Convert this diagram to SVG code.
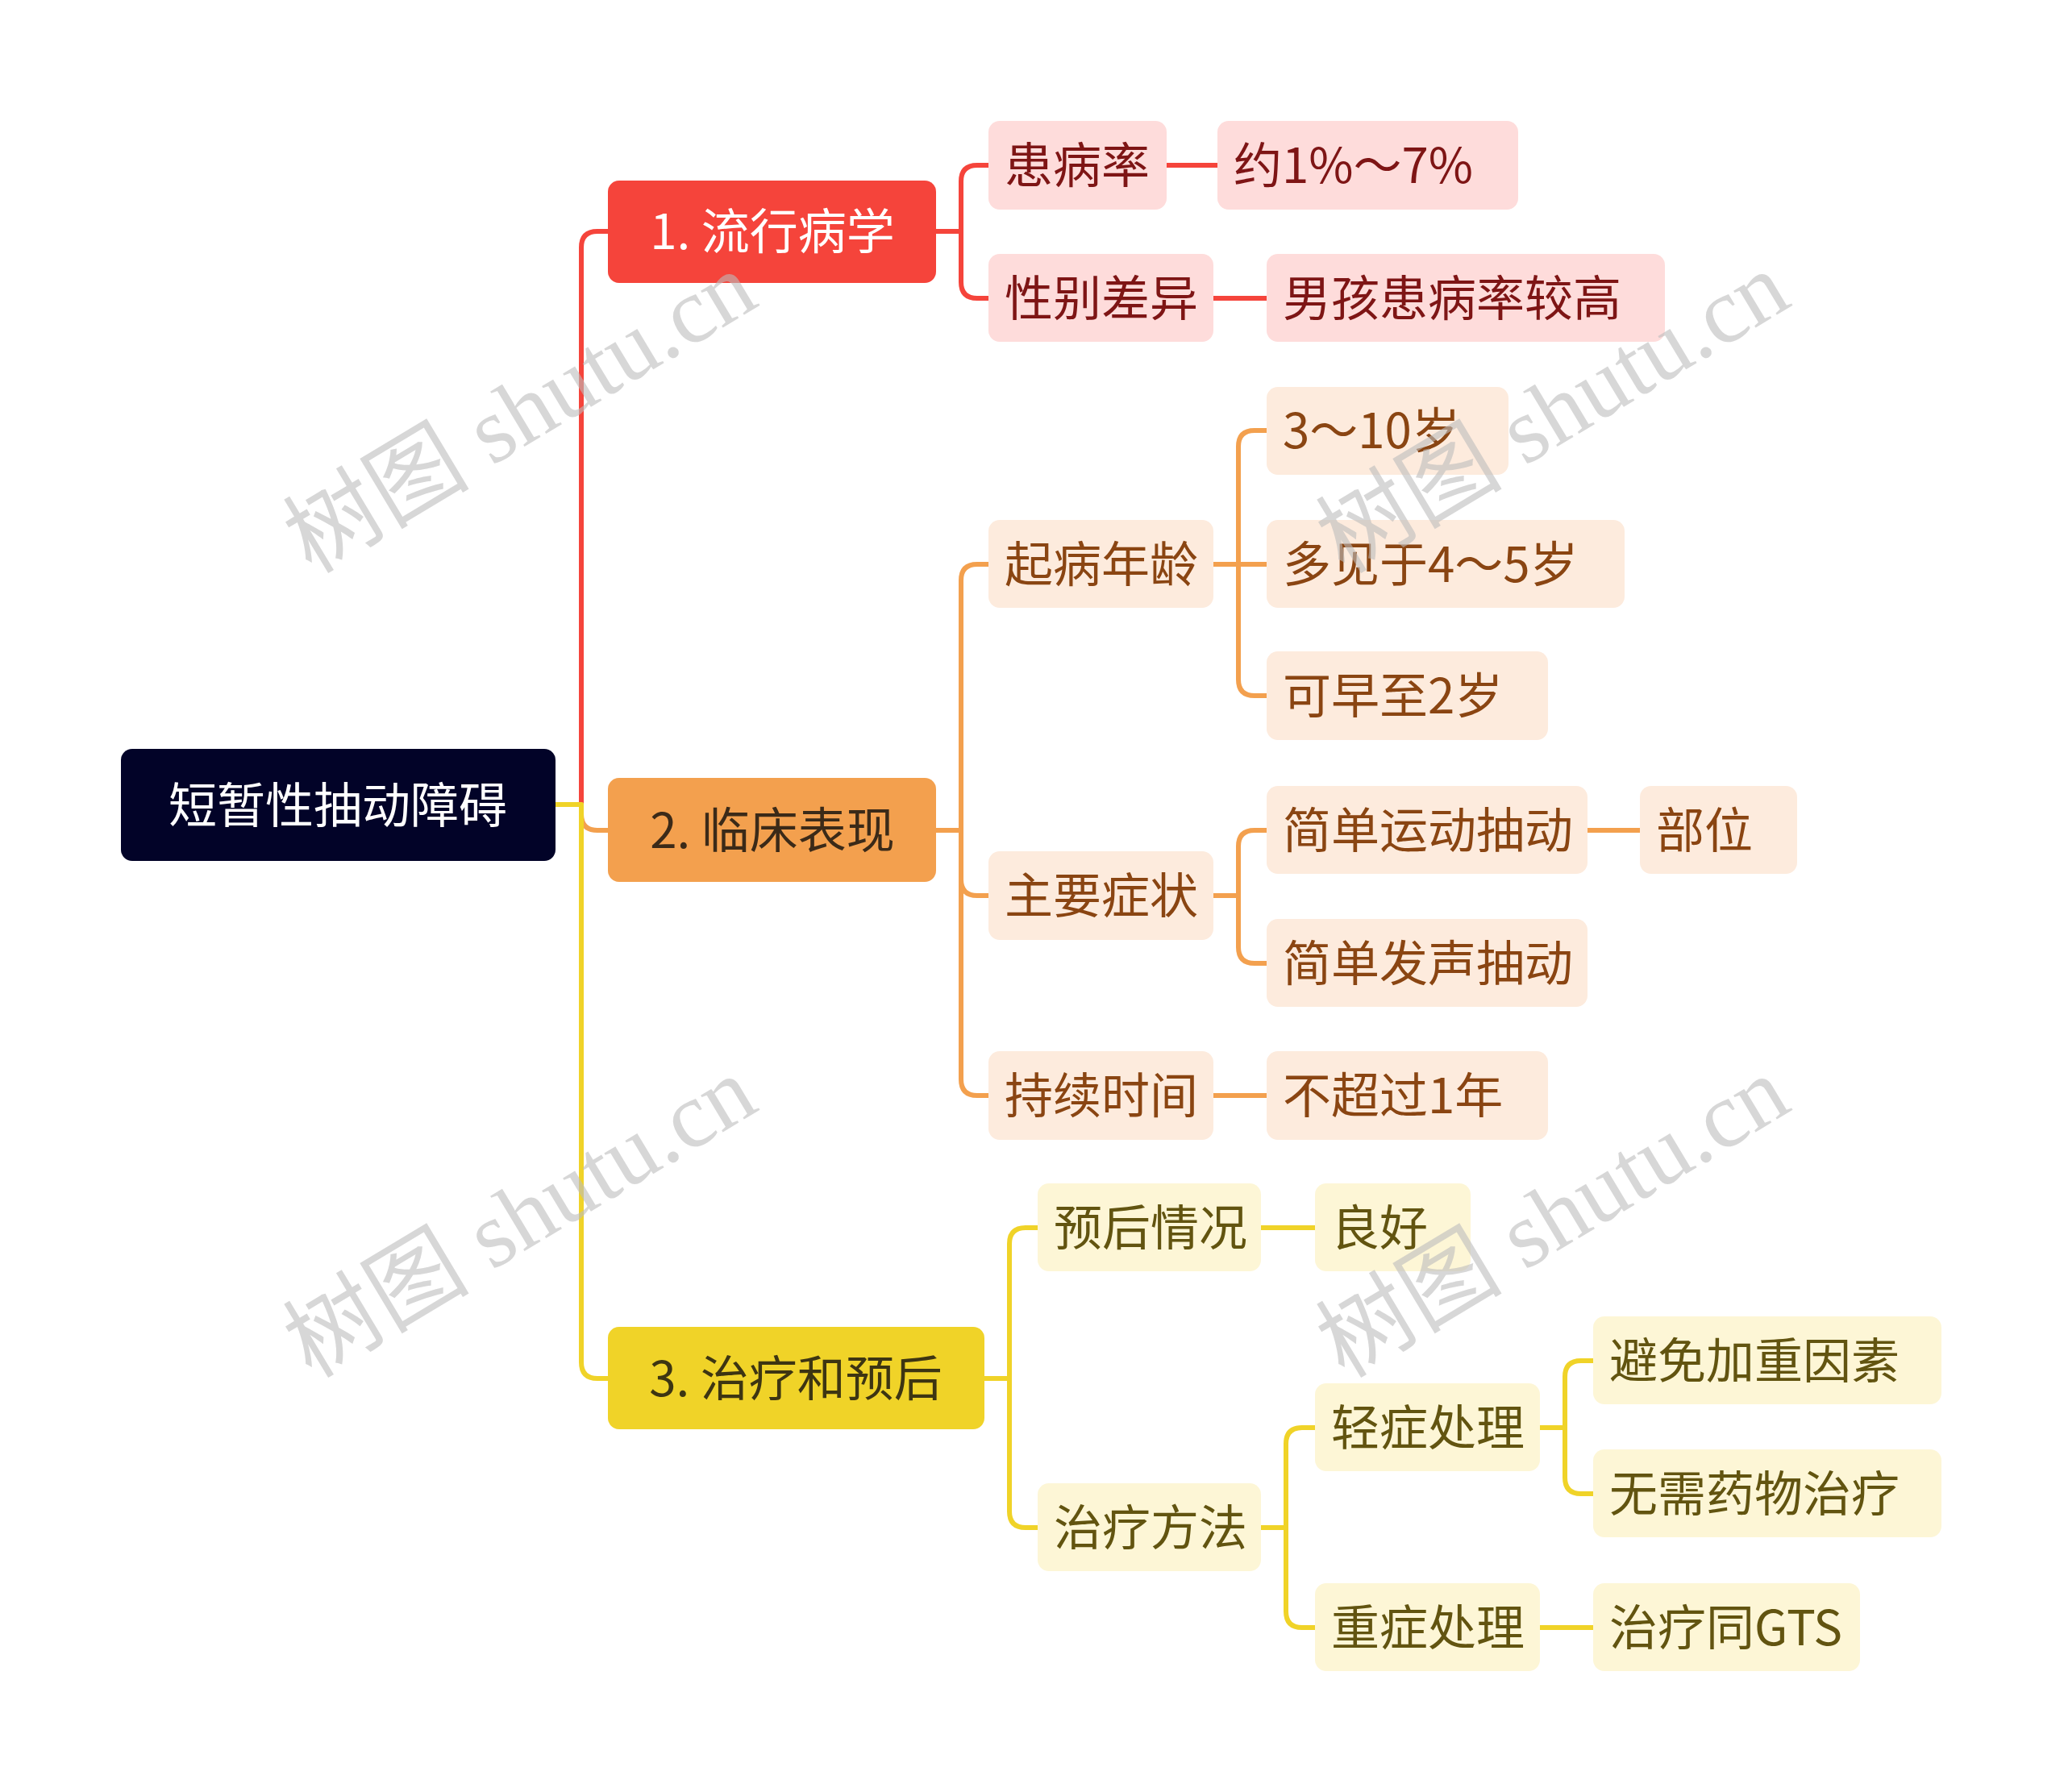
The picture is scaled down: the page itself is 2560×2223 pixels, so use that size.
<svg xmlns="http://www.w3.org/2000/svg" width="2560" height="2223" viewBox="0 0 2560 2223">
<style>
text{font-family:"Noto Sans CJK SC","Noto Sans",sans-serif;font-size:60px;dominant-baseline:central}
.c{fill:none;stroke-width:6;stroke-linecap:butt;stroke-linejoin:round}
.cr{stroke:#F5443B}.co{stroke:#F3A04E}.cy{stroke:#F0D328}
.nr{fill:#FEDCDB}.no{fill:#FDEBDD}.ny{fill:#FDF6D6}
.tr{fill:#7E1515}.to{fill:#8A4512}.ty{fill:#625410}
.l2 text{text-anchor:start}
.wm{font-family:"Liberation Serif","Noto Sans CJK SC",serif;font-size:116px;fill:#BDBDBD;fill-opacity:0.6;text-anchor:middle}
</style>
<rect width="2560" height="2223" fill="#FFFFFF"/>
<g id="connectors">
<path class="c cr" d="M689 998H721V307Q721 287 741 287H756"/>
<path class="c co" d="M689 998H721V1010Q721 1030 741 1030H756"/>
<path class="c cy" d="M689 998H721V1690Q721 1710 741 1710H756"/>
<path class="c cr" d="M1159 287H1192V225Q1192 205 1212 205H1228M1192 287V350Q1192 370 1212 370H1228"/>
<path class="c cr" d="M1445 205H1512M1503 370H1573"/>
<path class="c co" d="M1159 1030H1192V720Q1192 700 1212 700H1228M1192 1030V1091Q1192 1111 1212 1111H1228M1192 1030V1339Q1192 1359 1212 1359H1228"/>
<path class="c co" d="M1503 700H1536V554Q1536 534 1556 534H1573M1503 700H1573M1536 700V843Q1536 863 1556 863H1573"/>
<path class="c co" d="M1503 1111H1536V1050Q1536 1030 1556 1030H1573M1536 1111V1175Q1536 1195 1556 1195H1573"/>
<path class="c co" d="M1967 1030H2036M1503 1359H1573"/>
<path class="c cy" d="M1219 1710H1252V1543Q1252 1523 1272 1523H1289M1252 1710V1875Q1252 1895 1272 1895H1289"/>
<path class="c cy" d="M1562 1523H1633"/>
<path class="c cy" d="M1562 1895H1595V1791Q1595 1771 1615 1771H1633M1595 1895V1999Q1595 2019 1615 2019H1633"/>
<path class="c cy" d="M1908 1771H1941V1708Q1941 1688 1961 1688H1978M1941 1771V1833Q1941 1853 1961 1853H1978"/>
<path class="c cy" d="M1908 2019H1978"/>
</g>
<g id="root"><rect x="150" y="929" width="539" height="139" rx="14" fill="#020328"/><text x="419" y="994" fill="#FFFFFF" text-anchor="middle" font-size="63">短暂性抽动障碍</text></g>
<g id="n1"><rect x="754" y="224" width="407" height="127" rx="14" fill="#F5443B"/><text x="958" y="282" fill="#FFFFFF" text-anchor="middle" font-size="62">1. 流行病学</text></g>
<g id="n2"><rect x="754" y="965" width="407" height="129" rx="14" fill="#F3A04E"/><text x="958" y="1025" fill="#3B2A18" text-anchor="middle" font-size="62">2. 临床表现</text></g>
<g id="n3"><rect x="754" y="1646" width="467" height="127" rx="14" fill="#F0D328"/><text x="987" y="1705" fill="#3D3512" text-anchor="middle" font-size="62">3. 治疗和预后</text></g>
<g class="l2">
<g id="n1a"><rect class="nr" x="1226" y="150" width="221" height="110" rx="14"/><text class="tr" x="1246" y="200">患病率</text></g>
<g id="n1a1"><rect class="nr" x="1510" y="150" width="373" height="110" rx="14"/><text class="tr" x="1530" y="200">约1%～7%</text></g>
<g id="n1b"><rect class="nr" x="1226" y="315" width="279" height="109" rx="14"/><text class="tr" x="1246" y="365">性别差异</text></g>
<g id="n1b1"><rect class="nr" x="1571" y="315" width="494" height="109" rx="14"/><text class="tr" x="1591" y="365">男孩患病率较高</text></g>
<g id="n2a"><rect class="no" x="1226" y="645" width="279" height="109" rx="14"/><text class="to" x="1246" y="695">起病年龄</text></g>
<g id="n2a1"><rect class="no" x="1571" y="480" width="300" height="109" rx="14"/><text class="to" x="1591" y="529">3～10岁</text></g>
<g id="n2a2"><rect class="no" x="1571" y="645" width="444" height="109" rx="14"/><text class="to" x="1591" y="695">多见于4～5岁</text></g>
<g id="n2a3"><rect class="no" x="1571" y="808" width="349" height="110" rx="14"/><text class="to" x="1591" y="858">可早至2岁</text></g>
<g id="n2b"><rect class="no" x="1226" y="1056" width="279" height="110" rx="14"/><text class="to" x="1246" y="1106">主要症状</text></g>
<g id="n2b1"><rect class="no" x="1571" y="975" width="398" height="109" rx="14"/><text class="to" x="1591" y="1025">简单运动抽动</text></g>
<g id="n2b1a"><rect class="no" x="2034" y="975" width="195" height="109" rx="14"/><text class="to" x="2054" y="1025">部位</text></g>
<g id="n2b2"><rect class="no" x="1571" y="1140" width="398" height="109" rx="14"/><text class="to" x="1591" y="1190">简单发声抽动</text></g>
<g id="n2c"><rect class="no" x="1226" y="1304" width="279" height="110" rx="14"/><text class="to" x="1246" y="1354">持续时间</text></g>
<g id="n2c1"><rect class="no" x="1571" y="1304" width="349" height="110" rx="14"/><text class="to" x="1591" y="1354">不超过1年</text></g>
<g id="n3a"><rect class="ny" x="1287" y="1468" width="277" height="109" rx="14"/><text class="ty" x="1307" y="1518">预后情况</text></g>
<g id="n3a1"><rect class="ny" x="1631" y="1468" width="193" height="109" rx="14"/><text class="ty" x="1651" y="1518">良好</text></g>
<g id="n3b"><rect class="ny" x="1287" y="1840" width="277" height="109" rx="14"/><text class="ty" x="1307" y="1890">治疗方法</text></g>
<g id="n3b1"><rect class="ny" x="1631" y="1716" width="279" height="109" rx="14"/><text class="ty" x="1651" y="1766">轻症处理</text></g>
<g id="n3b1a"><rect class="ny" x="1976" y="1633" width="432" height="109" rx="14"/><text class="ty" x="1996" y="1683">避免加重因素</text></g>
<g id="n3b1b"><rect class="ny" x="1976" y="1798" width="432" height="109" rx="14"/><text class="ty" x="1996" y="1848">无需药物治疗</text></g>
<g id="n3b2"><rect class="ny" x="1631" y="1964" width="279" height="109" rx="14"/><text class="ty" x="1651" y="2014">重症处理</text></g>
<g id="n3b2a"><rect class="ny" x="1976" y="1964" width="331" height="109" rx="14"/><text class="ty" x="1996" y="2014">治疗同GTS</text></g>
</g>
<g id="watermarks">
<text class="wm" transform="translate(645 512) rotate(-31)">树图 shutu.cn</text>
<text class="wm" transform="translate(1926 512) rotate(-31)">树图 shutu.cn</text>
<text class="wm" transform="translate(645 1510) rotate(-31)">树图 shutu.cn</text>
<text class="wm" transform="translate(1926 1510) rotate(-31)">树图 shutu.cn</text>
</g>
</svg>
